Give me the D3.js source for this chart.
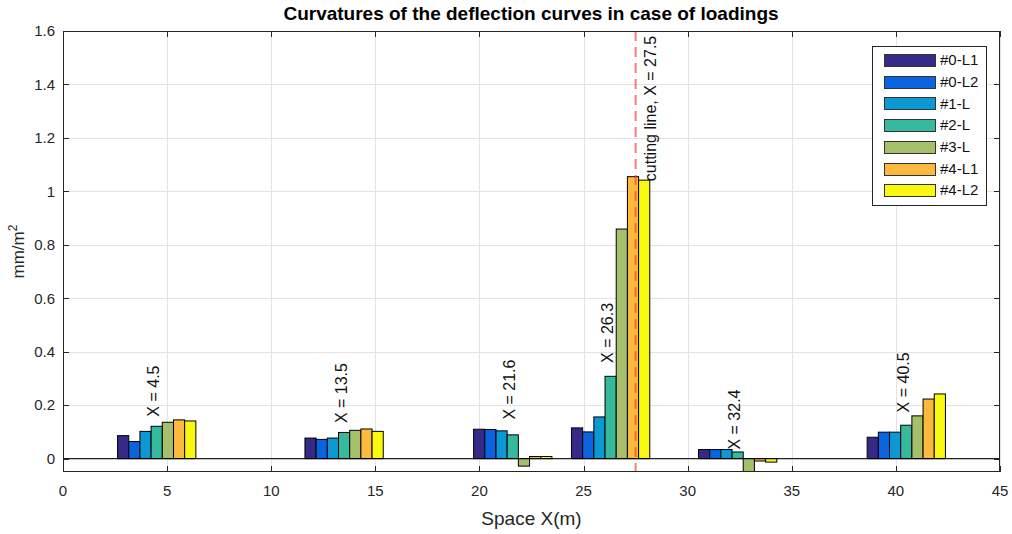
<!DOCTYPE html>
<html>
<head>
<meta charset="utf-8">
<script src="https://cdn.jsdelivr.net/npm/d3@7"></script>
<style>
  body { margin: 0; background: #fff; }
  svg { display: block; font-family: "Liberation Sans", Arial, Helvetica, sans-serif; }
</style>
</head>
<body>
<script>
// group positions along the span (m)
var group_x = [4.5, 13.5, 21.6, 26.3, 32.4, 40.5];
// where the "X = ..." labels start (mm/m^2)
var label_y = [0.157, 0.133, 0.146, 0.358, 0.034, 0.173];
var series_names = ['#0-L1', '#0-L2', '#1-L', '#2-L', '#3-L', '#4-L1', '#4-L2'];
var series_colors = ['#352a87', '#0a64e0', '#0c98d2', '#36b99c', '#a5bf6a', '#fbba3d', '#f8f90f'];
var s0_L1 = [0.086, 0.077, 0.110, 0.115, 0.034, 0.080];
var s0_L2 = [0.064, 0.072, 0.109, 0.100, 0.034, 0.099];
var s1_L  = [0.102, 0.077, 0.104, 0.156, 0.034, 0.099];
var s2_L  = [0.121, 0.098, 0.089, 0.308, 0.025, 0.125];
var s3_L  = [0.136, 0.106, -0.028, 0.859, -0.049, 0.160];
var s4_L1 = [0.145, 0.111, 0.008, 1.055, -0.009, 0.223];
var s4_L2 = [0.141, 0.102, 0.008, 1.042, -0.013, 0.242];
var cut_x = 27.5;
var x_ticks = [0, 5, 10, 15, 20, 25, 30, 35, 40, 45];
var y_ticks = [0, 0.2, 0.4, 0.6, 0.8, 1, 1.2, 1.4, 1.6];

var all_series = [s0_L1, s0_L2, s1_L, s2_L, s3_L, s4_L1, s4_L2];

var width = 1012, height = 534;
var p_left = 63, p_right = 1000, p_top = 31, p_bottom = 472;

var svg = d3.select('body').append('svg').attr('width', width).attr('height', height);

var x_scale = d3.scaleLinear().domain([0, 45]).range([p_left, p_right]);
var y_scale = d3.scaleLinear().domain([-0.05, 1.6]).range([p_bottom, p_top]);

// grid
var grid = svg.append('g').attr('stroke', '#e3e3e3').attr('stroke-width', 1);
grid.selectAll('.gx').data(x_ticks).enter().append('line')
  .attr('x1', d => Math.round(x_scale(d)) + 0.5).attr('x2', d => Math.round(x_scale(d)) + 0.5)
  .attr('y1', p_top).attr('y2', p_bottom);
grid.selectAll('.gy').data(y_ticks).enter().append('line')
  .attr('y1', d => Math.round(y_scale(d)) + 0.5).attr('y2', d => Math.round(y_scale(d)) + 0.5)
  .attr('x1', p_left).attr('x2', p_right);

svg.append('clipPath').attr('id', 'plotclip').append('rect')
  .attr('x', p_left).attr('y', p_top).attr('width', p_right - p_left).attr('height', p_bottom - p_top);

// bars (MATLAB style grouped bars)
var group_width = 0.8 * 4.7;
var bar_w = group_width / all_series.length;
var bars = svg.append('g').attr('clip-path', 'url(#plotclip)');
all_series.forEach(function(vals, s) {
  bars.selectAll('.b' + s).data(vals).enter().append('rect')
    .attr('x', (d, i) => x_scale(group_x[i] + (s - 3.5) * bar_w))
    .attr('width', x_scale(bar_w) - x_scale(0))
    .attr('y', d => y_scale(Math.max(d, 0)))
    .attr('height', d => Math.abs(y_scale(d) - y_scale(0)))
    .attr('fill', series_colors[s])
    .attr('stroke', '#000').attr('stroke-width', 1);
});

// baseline
svg.append('line').attr('x1', p_left).attr('x2', p_right)
  .attr('y1', y_scale(0)).attr('y2', y_scale(0))
  .attr('stroke', '#000').attr('stroke-width', 1);

// cutting line
svg.append('line').attr('x1', x_scale(cut_x)).attr('x2', x_scale(cut_x))
  .attr('y1', p_top).attr('y2', p_bottom)
  .attr('stroke', 'rgba(255,50,50,0.65)').attr('stroke-width', 2)
  .attr('stroke-dasharray', '10,6');

// annotation labels
svg.selectAll('.lab').data(group_x).enter().append('text')
  .attr('transform', (d, i) => 'translate(' + (x_scale(d) - 3) + ',' + y_scale(label_y[i]) + ') rotate(-90)')
  .attr('dy', '0.35em').attr('font-size', 16).attr('fill', '#111')
  .text(d => 'X = ' + d);
svg.append('text')
  .attr('transform', 'translate(' + x_scale(cut_x + 0.7) + ',' + y_scale(1.038) + ') rotate(-90)')
  .attr('dy', '0.35em').attr('font-size', 16).attr('fill', '#111')
  .text('cutting line, X = ' + cut_x);

// axes box
var axis_color = '#262626';
svg.append('rect').attr('x', p_left + 0.5).attr('y', p_top + 0.5)
  .attr('width', p_right - p_left - 1).attr('height', p_bottom - p_top - 1)
  .attr('fill', 'none').attr('stroke', axis_color).attr('stroke-width', 1);

var ticks = svg.append('g').attr('stroke', axis_color).attr('stroke-width', 1);
x_ticks.forEach(function(t) {
  var px = Math.round(x_scale(t)) + 0.5;
  ticks.append('line').attr('x1', px).attr('x2', px).attr('y1', p_bottom).attr('y2', p_bottom - 6);
  ticks.append('line').attr('x1', px).attr('x2', px).attr('y1', p_top).attr('y2', p_top + 6);
});
y_ticks.forEach(function(t) {
  var py = Math.round(y_scale(t)) + 0.5;
  ticks.append('line').attr('y1', py).attr('y2', py).attr('x1', p_left).attr('x2', p_left + 6);
  ticks.append('line').attr('y1', py).attr('y2', py).attr('x1', p_right).attr('x2', p_right - 6);
});

svg.selectAll('.xt').data(x_ticks).enter().append('text')
  .attr('x', d => x_scale(d)).attr('y', 491).attr('dy', '0.35em')
  .attr('text-anchor', 'middle').attr('font-size', 15).attr('fill', axis_color)
  .text(d => d);
svg.selectAll('.yt').data(y_ticks).enter().append('text')
  .attr('x', 55).attr('y', d => y_scale(d)).attr('dy', '0.35em')
  .attr('text-anchor', 'end').attr('font-size', 15).attr('fill', axis_color)
  .text(d => d);

// axis labels and title
svg.append('text').attr('x', (p_left + p_right) / 2).attr('y', 518).attr('dy', '0.35em')
  .attr('text-anchor', 'middle').attr('font-size', 19).attr('fill', axis_color)
  .text('Space X(m)');
var ylab = svg.append('text')
  .attr('transform', 'translate(24,' + (p_top + p_bottom) / 2 + ') rotate(-90)')
  .attr('text-anchor', 'middle').attr('font-size', 17).attr('fill', axis_color);
ylab.append('tspan').text('mm/m');
ylab.append('tspan').attr('font-size', 12).attr('dy', -7).text('2');
svg.append('text').attr('x', 531).attr('y', 13).attr('dy', '0.35em')
  .attr('text-anchor', 'middle').attr('font-size', 19).attr('font-weight', 'bold').attr('fill', '#000')
  .text('Curvatures of the deflection curves in case of loadings');

// legend
var legend = svg.append('g');
legend.append('rect').attr('x', 872.5).attr('y', 46.5).attr('width', 114).attr('height', 159)
  .attr('fill', '#fff').attr('stroke', axis_color).attr('stroke-width', 1);
series_names.forEach(function(name, i) {
  var cy = 60 + i * 21.7;
  legend.append('rect').attr('x', 884.5).attr('y', Math.round(cy - 6) + 0.5).attr('width', 51).attr('height', 12)
    .attr('fill', series_colors[i]).attr('stroke', '#333').attr('stroke-width', 1);
  legend.append('text').attr('x', 940).attr('y', cy).attr('dy', '0.35em')
    .attr('font-size', 15).attr('fill', '#111').text(name);
});
</script>
</body>
</html>
